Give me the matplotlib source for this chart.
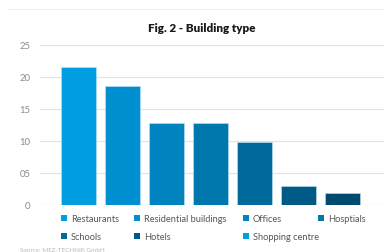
import matplotlib
matplotlib.use("Agg")
import matplotlib.pyplot as plt
from matplotlib.patches import Rectangle
from matplotlib.lines import Line2D

categories = ["Restaurants", "Residential buildings", "Offices", "Hosptials",
              "Schools", "Hotels", "Shopping centre"]
values = [21.6, 18.6, 12.8, 12.8, 9.9, 2.9, 1.9]
bar_colors = ["#009ee0", "#008fd0", "#0083be", "#0078ae", "#006a9a", "#005a87", "#004a70"]
legend_colors = ["#009ee0", "#008fd0", "#0083be", "#0078ae", "#006a9a", "#005a87", "#00a0e0"]
yticks = [0, 5, 10, 15, 20, 25]
ytick_labels = ["0", "05", "10", "15", "20", "25"]
title = "Fig. 2 - Building type"
source = "Source: MEZ-TECHNIK GmbH"

plt.rcParams['font.family'] = ['Lato', 'DejaVu Sans']

W, H = 384, 253
fig = plt.figure(figsize=(3.84, 2.53), dpi=100)
ax = fig.add_axes([40/W, 1-206/H, 1-40/W, 160/H])

x = list(range(len(categories)))
ax.bar(x, values, width=0.8, color=bar_colors, edgecolor="#bfe3f3", linewidth=0.4, zorder=3)
ax.set_xlim(-0.875, 6.94)
ax.set_ylim(0, 25)
ax.set_yticks(yticks)
ax.set_yticklabels(ytick_labels, fontsize=6.8, color="#8a8a8a")
ax.set_xticks([])
ax.tick_params(axis="y", length=0, pad=7)
ax.grid(axis="y", color="#e3e3e3", linewidth=0.9, zorder=0)
for s in ax.spines.values():
    s.set_visible(False)

# top separator line and title
fig.add_artist(Line2D([8/W, 1], [1-10/H, 1-10/H], color="#eeeeee", linewidth=0.8))
fig.text(202/W, 1-28/H, title, ha="center", va="center", fontsize=8.4,
         fontweight="heavy", color="#1a1a1a")

# legend: 4-column grid, row-major
col_x = [61, 134, 243, 318]
row_y = [219, 237]
sq = 6
for i, (label, c) in enumerate(zip(categories, legend_colors)):
    cx = col_x[i % 4]
    cy = row_y[i // 4]
    fig.add_artist(Rectangle((cx/W, 1-(cy+sq/2)/H), sq/W, sq/H,
                             transform=fig.transFigure, facecolor=c, edgecolor="none"))
    fig.text((cx+10)/W, 1-cy/H, label, ha="left", va="center_baseline",
             fontsize=6.7, color="#555555")

fig.text(20/W, 1-251/H, source, ha="left", va="center", fontsize=4.5, color="#b8b8b8")

fig.savefig("out.png", dpi=100)
